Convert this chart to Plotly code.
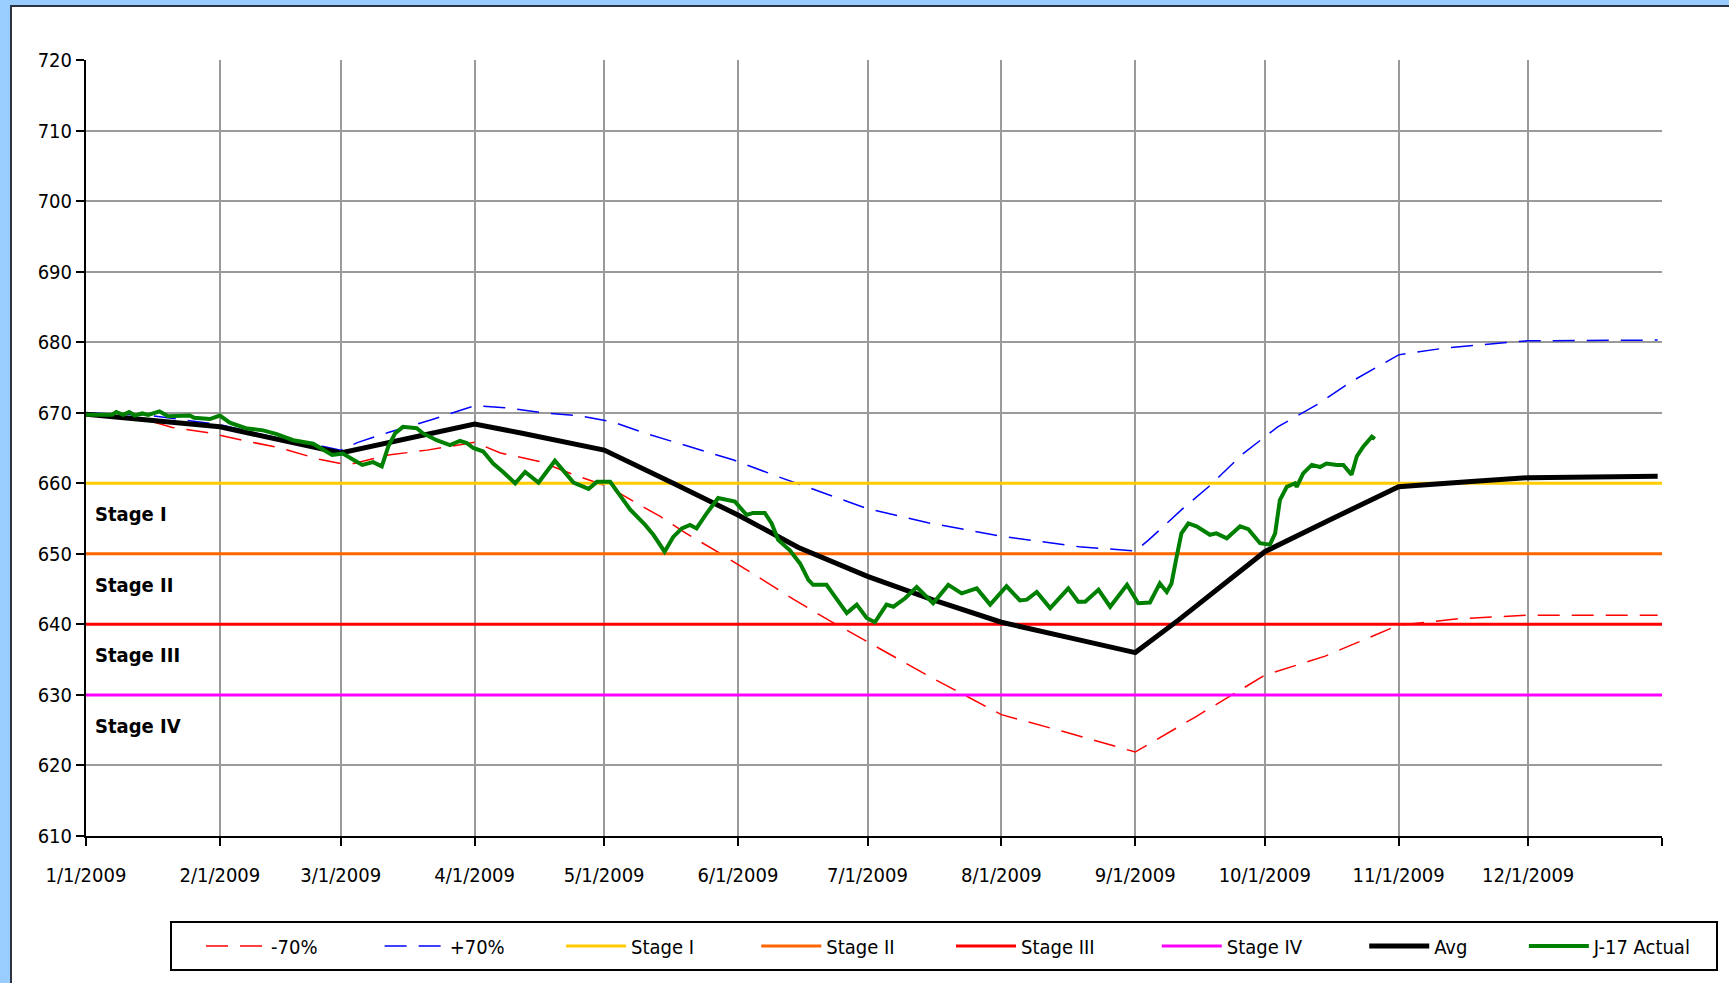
import pandas as pd
import plotly.graph_objects as go

# ---------------- data ----------------
month_ticks = ["2009-01-01", "2009-02-01", "2009-03-01", "2009-04-01", "2009-05-01", "2009-06-01",
               "2009-07-01", "2009-08-01", "2009-09-01", "2009-10-01", "2009-11-01", "2009-12-01",
               "2010-01-01"]
month_labels = ["1/1/2009", "2/1/2009", "3/1/2009", "4/1/2009", "5/1/2009", "6/1/2009",
                "7/1/2009", "8/1/2009", "9/1/2009", "10/1/2009", "11/1/2009", "12/1/2009", ""]

# days since 1/1/2009
minus70_day = [0, 15, 20, 28, 37, 45, 54, 59, 62, 70, 79, 88, 90, 96, 105, 113, 121, 128, 133, 139,
               147, 156, 164, 172, 181, 196, 212, 227, 243, 257, 273, 287, 304, 318, 334, 364]
minus70_val = [670.0, 668.8, 667.9, 667.2, 666.0, 665.0, 663.4, 662.8, 662.8, 664.0, 664.7, 665.6, 665.8,
               664.3, 663.1, 661.2, 659.5, 657.0, 655.3, 652.9, 650.0, 646.6, 643.5, 640.6, 637.5, 632.4,
               627.2, 624.7, 621.9, 626.9, 632.8, 635.5, 639.9, 640.8, 641.3, 641.3]

plus70_day = [0, 15, 31, 46, 55, 59, 63, 70, 80, 90, 97, 106, 115, 122, 130, 140, 150, 160, 170, 181,
              195, 212, 230, 243, 246, 254, 260, 268, 276, 285, 293, 304, 315, 334, 364]
plus70_val = [670.0, 669.6, 668.3, 666.2, 665.2, 664.7, 665.8, 667.2, 669.0, 671.0, 670.7, 670.0, 669.5,
              668.7, 667.0, 665.1, 663.3, 661.0, 658.8, 656.4, 654.4, 652.5, 651.0, 650.4, 651.9, 656.4,
              659.5, 664.2, 668.0, 671.1, 674.4, 678.2, 679.2, 680.2, 680.3]

avg_day = [0, 31, 59, 66, 74, 82, 90, 101, 109, 120, 136, 151, 165, 181, 196, 212, 230, 243, 253,
           273, 288, 304, 320, 334, 364]
avg_val = [669.8, 668.0, 664.3, 665.2, 666.4, 667.3, 668.4, 667.1, 666.1, 664.7, 660.0, 655.5,
           650.9, 646.8, 643.5, 640.3, 637.8, 636.0, 640.6, 650.3, 654.8, 659.5, 660.2, 660.8, 661.0]

actual_day = [0, 6, 7, 8.6, 10, 11.3, 13, 14.4, 17, 19, 24, 25, 28.7, 31, 33.3, 37, 41, 44, 48, 52.6,
              57, 59.5, 62, 64, 66.5, 68.5, 70, 71.6, 73.4, 76.6, 78, 81.2, 84.3, 86.6, 88.2, 89.7, 92,
              94.3, 96.6, 99.4, 101.7, 104.8, 108.6, 112.9, 116.4, 118.3, 121.4, 123.7, 126, 129.5,
              131.4, 134, 136, 138, 139.9, 141.4, 143.7, 146.4, 148.4, 150.3, 153, 154.5, 157.2, 158.8,
              160.3, 163, 165.4, 167.3, 168.4, 171.5, 173.5, 176.2, 178.5, 180.8, 182.7, 185.4, 187,
              189.7, 192.4, 196.2, 199.7, 202.8, 206.3, 209.4, 213.2, 216.3, 217.9, 220.2, 223.3, 227.5,
              229.8, 231.4, 234.5, 237.2, 241.1, 243.7, 246.4, 248.7, 250.3, 251.4, 252.6, 253.7, 255.3,
              257.2, 260.3, 261.8, 264.2, 267.3, 269.2, 271.9, 274.2, 275.4, 276.5, 278.1, 280, 280.4,
              281.9, 283.9, 285.8, 287.3, 289.7, 291.2, 293.1, 294.3, 295.8, 297.8, 298.5]
actual_val = [669.7, 669.7, 670.1, 669.7, 670.1, 669.6, 669.9, 669.7, 670.2, 669.5, 669.6, 669.3, 669.1,
              669.6, 668.6, 667.8, 667.5, 667.0, 666.1, 665.6, 664.0, 664.2, 663.3, 662.6, 663.0, 662.4,
              665.2, 667.1, 668.0, 667.8, 667.1, 666.1, 665.4, 666.0, 665.7, 665.0, 664.5, 662.8, 661.6,
              660.0, 661.6, 660.1, 663.2, 660.1, 659.2, 660.2, 660.2, 658.3, 656.3, 654.1, 652.7, 650.3,
              652.4, 653.6, 654.1, 653.6, 655.7, 657.9, 657.6, 657.4, 655.5, 655.8, 655.8, 654.3, 652.0,
              650.5, 648.6, 646.3, 645.6, 645.6, 643.9, 641.6, 642.8, 640.9, 640.3, 642.8, 642.5, 643.7,
              645.3, 643.0, 645.6, 644.4, 645.1, 642.8, 645.4, 643.4, 643.5, 644.6, 642.3, 645.1, 643.2,
              643.2, 644.9, 642.5, 645.6, 643.0, 643.1, 645.8, 644.6, 645.8, 649.6, 652.9, 654.3, 653.9,
              652.7, 652.9, 652.2, 653.9, 653.5, 651.5, 651.3, 652.9, 657.6, 659.5, 660.0, 659.5, 661.4,
              662.6, 662.3, 662.8, 662.6, 662.6, 661.2, 663.8, 665.2, 666.6, 666.3]

stage_names = ["Stage I", "Stage II", "Stage III", "Stage IV"]
stage_levels = [660, 650, 640, 630]
stage_span = ["2009-01-01", "2010-01-01"]

# ---------------- helpers ----------------
start = pd.Timestamp("2009-01-01")


def to_dates(days):
    return [start + pd.Timedelta(days=d) for d in days]


# pixel -> paper helpers for layout positioning (plot area 86..1662 x, 60..836 y)
PL, PR, PT, PB = 86, 1662, 60, 836


def px2x(px):
    return (px - PL) / (PR - PL)


def py2y(py):
    return (PB - py) / (PB - PT)


FONT = "DejaVu Sans Condensed, Liberation Sans Narrow, Arial Narrow, DejaVu Sans, sans-serif"
NB = "\u00a0"


def pad(n):
    return NB * n


fig = go.Figure()

fig.add_trace(go.Scatter(x=to_dates(minus70_day), y=minus70_val, mode="lines", name="-70%" + pad(10),
                         line=dict(color="#FF0000", width=1.5, dash="22px,12px")))
fig.add_trace(go.Scatter(x=to_dates(plus70_day), y=plus70_val, mode="lines", name="+70%" + pad(9),
                         line=dict(color="#0000FF", width=1.5, dash="22px,12px")))

stage_colors = ["#FFCC00", "#FF6600", "#FF0000", "#FF00FF"]
stage_pads = [10, 9, 10, 10]
for nm, lvl, col, p in zip(stage_names, stage_levels, stage_colors, stage_pads):
    fig.add_trace(go.Scatter(x=stage_span, y=[lvl, lvl], mode="lines", name=nm + pad(p),
                             line=dict(color=col, width=3)))

fig.add_trace(go.Scatter(x=to_dates(avg_day), y=avg_val, mode="lines", name="Avg" + pad(9),
                         line=dict(color="#000000", width=5)))
fig.add_trace(go.Scatter(x=to_dates(actual_day), y=actual_val, mode="lines", name="J-17 Actual",
                         line=dict(color="#008000", width=4)))

# stage labels
for nm, lvl in zip(stage_names, stage_levels):
    fig.add_annotation(x=px2x(93), xref="paper", y=lvl - 4.4, yref="y", text="<b>" + nm + "</b>",
                       showarrow=False, xanchor="left", yanchor="middle",
                       font=dict(family=FONT, size=20, color="#000000"))

# window frame (light-blue border on left/top)
blue = "#99CCFF"
fig.add_shape(type="rect", xref="paper", yref="paper", x0=px2x(-2), x1=px2x(10), y0=py2y(990), y1=py2y(-2),
              fillcolor=blue, line=dict(width=0), layer="below")
fig.add_shape(type="rect", xref="paper", yref="paper", x0=px2x(-2), x1=px2x(1735), y0=py2y(5), y1=py2y(-2),
              fillcolor=blue, line=dict(width=0), layer="below")
fig.add_shape(type="line", xref="paper", yref="paper", x0=px2x(11), x1=px2x(11), y0=py2y(990), y1=py2y(6),
              line=dict(color="#2b3440", width=2), layer="below")
fig.add_shape(type="line", xref="paper", yref="paper", x0=px2x(10), x1=px2x(1735), y0=py2y(6), y1=py2y(6),
              line=dict(color="#2b3440", width=2), layer="below")
# legend frame
fig.add_shape(type="rect", xref="paper", yref="paper", x0=px2x(171), x1=px2x(1717), y0=py2y(970),
              y1=py2y(922), line=dict(color="#000000", width=2), fillcolor="rgba(0,0,0,0)")

fig.update_layout(
    width=1729, height=983,
    margin=dict(l=PL, r=1729 - PR, t=PT, b=983 - PB),
    paper_bgcolor="#FFFFFF", plot_bgcolor="#FFFFFF",
    font=dict(family=FONT, size=20, color="#000000"),
    showlegend=True,
    legend=dict(orientation="h", x=px2x(201), y=py2y(946), xanchor="left", yanchor="middle",
                borderwidth=0, bgcolor="rgba(0,0,0,0)",
                font=dict(family=FONT, size=20), itemwidth=60),
    xaxis=dict(type="date", range=["2009-01-01", "2010-01-01"], tickmode="array",
               tickvals=month_ticks, ticktext=month_labels, ticks="outside", ticklen=8,
               tickcolor="#000000", tickwidth=1.5, showline=True, linecolor="#000000", linewidth=2,
               showgrid=True, gridcolor="#9a9a9a", gridwidth=1.5, zeroline=False,
               ticklabelstandoff=12, tickfont=dict(family=FONT, size=20)),
    yaxis=dict(range=[610, 720], tickmode="linear", tick0=610, dtick=10, ticks="outside", ticklen=8,
               tickcolor="#000000", tickwidth=1.5, showline=True, linecolor="#000000", linewidth=2,
               showgrid=True, gridcolor="#9a9a9a", gridwidth=1.5, zeroline=False,
               tickfont=dict(family=FONT, size=20)),
)

fig.write_html("out.html", config={"displayModeBar": False},
               post_script="document.body.style.margin='0';")
